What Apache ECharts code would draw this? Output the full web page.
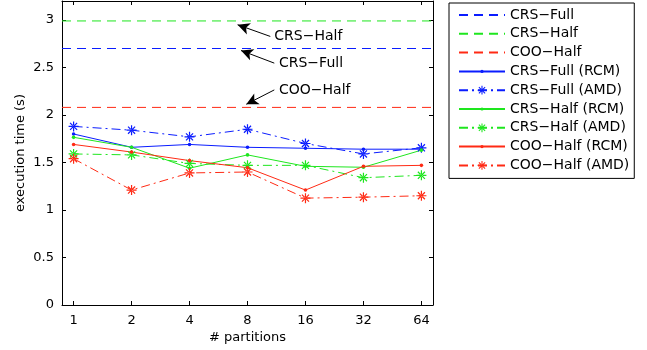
<!DOCTYPE html>
<html>
<head>
<meta charset="utf-8">
<script src="https://cdn.jsdelivr.net/npm/echarts@6/dist/echarts.min.js"></script>
<style>
  html, body { margin: 0; padding: 0; background: #fff; }
  #chart { width: 647px; height: 350px; }
</style>
</head>
<body>
<div id="chart"></div>
<script>
// Partition counts (x positions are log2 of the count: 0..6)
const partitions = ['1', '2', '4', '8', '16', '32', '64'];
const xMin = -0.2;
const xMax = 6.2;

// Unpartitioned reference times (s)
const crsFullRef = 2.70;
const crsHalfRef = 2.99;
const cooHalfRef = 2.08;

// Execution times (s) per partition count
const crsFullRCM = [1.80, 1.66, 1.69, 1.66, 1.65, 1.64, 1.64];
const crsFullAMD = [1.88, 1.84, 1.77, 1.85, 1.70, 1.59, 1.655];
const crsHalfRCM = [1.765, 1.66, 1.44, 1.58, 1.46, 1.45, 1.63];
const crsHalfAMD = [1.59, 1.58, 1.49, 1.47, 1.47, 1.34, 1.365];
const cooHalfRCM = [1.69, 1.61, 1.52, 1.445, 1.21, 1.46, 1.47];
const cooHalfAMD = [1.54, 1.21, 1.39, 1.40, 1.125, 1.135, 1.15];

// Y ticks
const yMin = 0, yMax = 3.2, yStep = 0.5;

// Callouts for the reference lines (data coordinates)
const noteLabels = ['CRS\u2212Half', 'CRS\u2212Full', 'COO\u2212Half'];
const noteTextAt = [[3.462, 2.827], [3.543, 2.546], [3.543, 2.264]];
const noteArrowFrom = [[3.393, 2.827], [3.462, 2.546], [3.462, 2.264]];
const noteArrowTo = [[2.829, 2.950], [2.888, 2.679], [2.979, 2.113]];

const BLUE = '#0a1cff';
const GREEN = '#1ee61e';
const RED = '#ff2a14';
const FONT = 'DejaVu Sans';

// Eight-spoke asterisk marker
const STAR = 'path://M-0.6,-5L0.6,-5L0.6,5L-0.6,5Z' +
  'M-5,-0.6L5,-0.6L5,0.6L-5,0.6Z' +
  'M-3.96,-3.11L3.11,3.96L3.96,3.11L-3.11,-3.96Z' +
  'M3.96,-3.11L-3.11,3.96L-3.96,3.11L3.11,-3.96Z';
// Small point marker inside a 10x10 box (corner points only set the bounds)
const DOT = 'path://M-5,-5L-5,-5M5,5L5,5' +
  'M-1.8,0A1.8,1.8 0 1 1 1.8,0A1.8,1.8 0 1 1 -1.8,0Z';

const DASH = [9, 6];
const DASHDOT = [9, 4, 2, 4];

const tickIdx = partitions.map((_, i) => i);
const pairs = arr => arr.map((v, i) => [i, v]);
const hline = v => [[xMin, v], [xMax, v]];

function refSeries(name, value, color) {
  return {
    name, type: 'line', data: hline(value), symbol: 'none',
    lineStyle: { color, width: 1, type: DASH, opacity: 1 }, itemStyle: { color },
    silent: true, z: 6
  };
}
function rcmSeries(name, values, color) {
  return {
    name, type: 'line', data: pairs(values), symbol: DOT, symbolSize: 10,
    lineStyle: { color, width: 1, type: 'solid' }, itemStyle: { color },
    silent: true, z: 3
  };
}
function amdSeries(name, values, color) {
  return {
    name, type: 'line', data: pairs(values), symbol: STAR, symbolSize: 10,
    lineStyle: { color, width: 1, type: DASHDOT }, itemStyle: { color },
    silent: true, z: 3
  };
}

const series = [
  refSeries('CRS\u2212Full', crsFullRef, BLUE),
  refSeries('CRS\u2212Half', crsHalfRef, GREEN),
  refSeries('COO\u2212Half', cooHalfRef, RED),
  rcmSeries('CRS\u2212Full (RCM)', crsFullRCM, BLUE),
  amdSeries('CRS\u2212Full (AMD)', crsFullAMD, BLUE),
  rcmSeries('CRS\u2212Half (RCM)', crsHalfRCM, GREEN),
  amdSeries('CRS\u2212Half (AMD)', crsHalfAMD, GREEN),
  rcmSeries('COO\u2212Half (RCM)', cooHalfRCM, RED),
  amdSeries('COO\u2212Half (AMD)', cooHalfAMD, RED),
  {
    name: 'notes', type: 'scatter', silent: true, z: 5,
    symbolSize: 0,
    itemStyle: { opacity: 1, color: '#000' },
    data: noteTextAt.map((p, i) => [p[0], p[1], noteLabels[i]]),
    label: {
      show: true, position: 'right', distance: 0,
      formatter: p => p.value[2],
      color: '#000', fontSize: 14, fontFamily: FONT
    },
    markLine: {
      silent: true,
      symbol: ['none', 'arrow'],
      symbolSize: [9, 12],
      label: { show: false },
      lineStyle: { color: '#000', width: 1, type: 'solid', opacity: 1 },
      emphasis: { disabled: true },
      data: noteArrowFrom.map((p, i) => [
        { coord: p },
        { coord: noteArrowTo[i] }
      ])
    }
  }
];

// Reference lines show only their dashed line in the legend
const legendData = series.slice(0, 9).map((s, i) => i < 3
  ? { name: s.name, itemStyle: { opacity: 0, color: 'rgba(0,0,0,0)', borderWidth: 0 } }
  : { name: s.name });

const axisLine = { show: true, onZero: false, lineStyle: { color: '#000', width: 1 } };
const tick = { show: true, inside: true, length: 4, lineStyle: { color: '#000', width: 1 } };

const option = {
  animation: false,
  textStyle: { fontFamily: FONT },
  grid: { left: 62, right: 214, top: 1, bottom: 45, containLabel: false },
  legend: {
    data: legendData,
    orient: 'vertical',
    left: 449, top: 3,
    itemWidth: 46, itemHeight: 11, itemGap: 4.8,
    padding: [5, 5, 6, 9],
    borderColor: '#000', borderWidth: 1,
    selectedMode: false,
    textStyle: { color: '#000', fontSize: 14, fontFamily: FONT }
  },
  xAxis: [
    {
      type: 'value', min: xMin, max: xMax, position: 'bottom',
      axisLine,
      axisTick: { ...tick, customValues: tickIdx },
      axisLabel: {
        customValues: tickIdx,
        formatter: v => partitions[Math.round(v)],
        color: '#000', fontSize: 13, fontFamily: FONT, margin: 9
      },
      splitLine: { show: false },
      name: '# partitions', nameLocation: 'middle', nameGap: 26,
      nameMoveOverlap: false,
      nameTextStyle: { color: '#000', fontSize: 13, fontFamily: FONT }
    },
    {
      type: 'value', min: xMin, max: xMax, position: 'top',
      axisLine,
      axisTick: { ...tick, customValues: tickIdx },
      axisLabel: { show: false },
      splitLine: { show: false }
    }
  ],
  yAxis: [
    {
      type: 'value', min: yMin, max: yMax, interval: yStep, position: 'left',
      axisLine, axisTick: tick,
      axisLabel: {
        showMaxLabel: false,
        color: '#000', fontSize: 13, fontFamily: FONT, margin: 8
      },
      splitLine: { show: false },
      name: 'execution time (s)', nameLocation: 'middle', nameGap: 35,
      nameMoveOverlap: false,
      nameTextStyle: { color: '#000', fontSize: 13, fontFamily: FONT }
    },
    {
      type: 'value', min: yMin, max: yMax, interval: yStep, position: 'right',
      axisLine, axisTick: tick,
      axisLabel: { show: false },
      splitLine: { show: false }
    }
  ],
  series
};

const chart = echarts.init(document.getElementById('chart'), null, { renderer: 'canvas' });
chart.setOption(option);
</script>
</body>
</html>
